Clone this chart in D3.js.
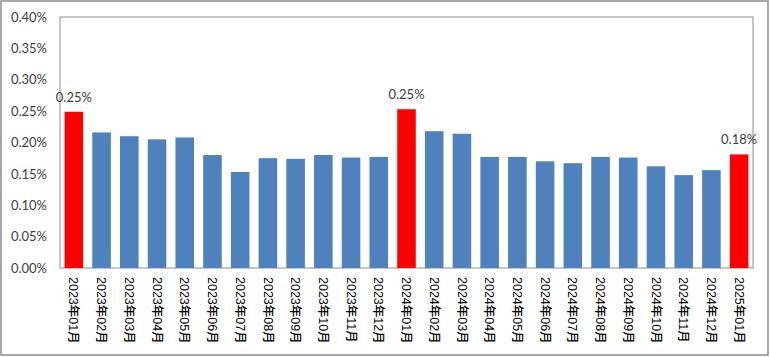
<!DOCTYPE html>
<html>
<head>
<meta charset="utf-8">
<script src="https://cdn.jsdelivr.net/npm/d3@7"></script>
<style>
  html, body { margin: 0; padding: 0; background: #fff; }
  svg { display: block; }
</style>
</head>
<body>
<svg id="chart" width="770" height="357"></svg>
<script>
const categories = [
  "2023年01月","2023年02月","2023年03月","2023年04月","2023年05月","2023年06月",
  "2023年07月","2023年08月","2023年09月","2023年10月","2023年11月","2023年12月",
  "2024年01月","2024年02月","2024年03月","2024年04月","2024年05月","2024年06月",
  "2024年07月","2024年08月","2024年09月","2024年10月","2024年11月","2024年12月",
  "2025年01月"
];
const values = [
  0.249, 0.216, 0.210, 0.205, 0.208, 0.180,
  0.153, 0.175, 0.174, 0.180, 0.176, 0.177,
  0.253, 0.218, 0.214, 0.177, 0.177, 0.170,
  0.167, 0.177, 0.176, 0.162, 0.148, 0.156,
  0.181
];
const highlighted = ["2023年01月", "2024年01月", "2025年01月"];
const yTicks = [0, 0.05, 0.10, 0.15, 0.20, 0.25, 0.30, 0.35, 0.40];

const svg = d3.select("#chart");
const W = 770, H = 357;
const plot = { left: 60, right: 753, top: 17, bottom: 268 };

// outer border
svg.append("rect")
  .attr("x", 1).attr("y", 1).attr("width", W - 3).attr("height", H - 3)
  .attr("fill", "#fff").attr("stroke", "#8c8c8c").attr("stroke-width", 1.5);

const x = d3.scaleBand().domain(categories).range([plot.left, plot.right])
  .paddingInner(0.33).paddingOuter(0.165);
const y = d3.scaleLinear().domain([0, 0.40]).range([plot.bottom, plot.top]);

// plot frame
svg.append("rect")
  .attr("x", plot.left).attr("y", plot.top)
  .attr("width", plot.right - plot.left).attr("height", plot.bottom - plot.top)
  .attr("fill", "none").attr("stroke", "#8c8c8c").attr("stroke-width", 1);

// y axis labels
const yAxis = d3.axisLeft(y).tickValues(yTicks).tickSize(0).tickPadding(13)
  .tickFormat(d => d.toFixed(2) + "%");
const gy = svg.append("g").attr("transform", `translate(${plot.left},0)`).call(yAxis);
gy.select(".domain").remove();
gy.selectAll("text")
  .attr("font-family", "Lato, 'Open Sans', sans-serif")
  .attr("font-size", 13).attr("fill", "#404040");

// bars
const data = categories.map((c, i) => ({ c, v: values[i] }));
svg.append("g").selectAll("rect").data(data).join("rect")
  .attr("x", d => x(d.c))
  .attr("y", d => y(d.v))
  .attr("width", x.bandwidth())
  .attr("height", d => y(0) - y(d.v))
  .attr("fill", d => highlighted.includes(d.c) ? "#ff0000" : "#4f81bd");

// data labels for highlighted
svg.append("g").selectAll("text").data(data.filter(d => highlighted.includes(d.c))).join("text")
  .attr("x", d => x(d.c) + x.bandwidth() / 2)
  .attr("y", d => y(d.v) - 10)
  .attr("text-anchor", "middle")
  .attr("font-family", "Lato, 'Open Sans', sans-serif")
  .attr("font-size", 13).attr("fill", "#404040")
  .text(d => d.v.toFixed(2) + "%");

// x axis labels (rotated)
const xAxis = d3.axisBottom(x).tickSize(0).tickPadding(0);
const gx = svg.append("g").attr("transform", `translate(0,${plot.bottom})`).call(xAxis);
gx.select(".domain").remove();
gx.selectAll("text")
  .attr("transform", "rotate(90)")
  .attr("x", 9).attr("y", 0).attr("dy", "0.35em")
  .attr("text-anchor", "start")
  .attr("font-family", "'Liberation Sans', 'Noto Sans CJK SC', sans-serif")
  .attr("font-size", 12.5).attr("font-weight", 500).attr("fill", "#000");
</script>
</body>
</html>
